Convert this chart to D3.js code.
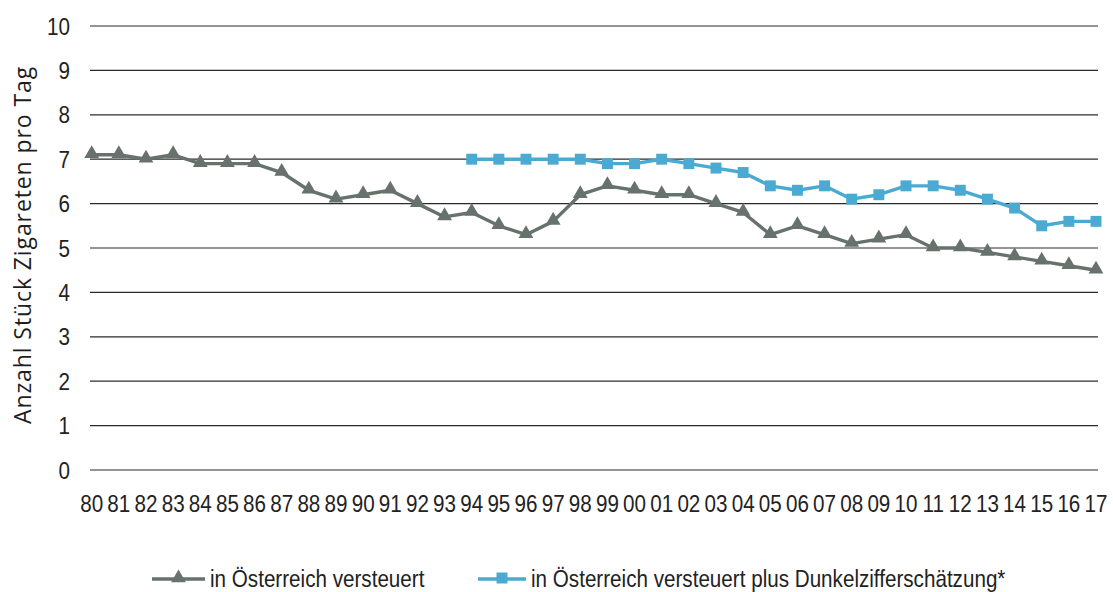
<!DOCTYPE html>
<html><head><meta charset="utf-8">
<script src="https://cdn.jsdelivr.net/npm/d3@7"></script>
<style>
html,body{margin:0;padding:0;background:#fff;}
svg{display:block;}
.tick-label{font-family:"Liberation Sans",Arial,sans-serif;fill:#222;}
</style></head>
<body>
<svg id="chart" width="1113" height="592"></svg>
<script>
const years = ["80","81","82","83","84","85","86","87","88","89","90","91","92","93","94","95","96","97","98","99","00","01","02","03","04","05","06","07","08","09","10","11","12","13","14","15","16","17"];
const taxed = [7.1,7.1,7.0,7.1,6.9,6.9,6.9,6.7,6.3,6.1,6.2,6.3,6.0,5.7,5.8,5.5,5.3,5.6,6.2,6.4,6.3,6.2,6.2,6.0,5.8,5.3,5.5,5.3,5.1,5.2,5.3,5.0,5.0,4.9,4.8,4.7,4.6,4.5];
const estYears = ["94","95","96","97","98","99","00","01","02","03","04","05","06","07","08","09","10","11","12","13","14","15","16","17"];
const estimated = [7.0,7.0,7.0,7.0,7.0,6.9,6.9,7.0,6.9,6.8,6.7,6.4,6.3,6.4,6.1,6.2,6.4,6.4,6.3,6.1,5.9,5.5,5.6,5.6];
const yTicks = [0,1,2,3,4,5,6,7,8,9,10];
const seriesNames = ["in Österreich versteuert","in Österreich versteuert plus Dunkelzifferschätzung*"];

const grey = "#66726b", blue = "#4aaad2";
const sx = 0.86;
const svg = d3.select("#chart");
const x = d3.scalePoint().domain(years).range([91.7, 1096]);
const y = d3.scaleLinear().domain([0,10]).range([470, 26]);

// gridlines
svg.append("g").selectAll("line").data(yTicks).join("line")
  .attr("x1", 90).attr("x2", 1098)
  .attr("y1", d => y(d)).attr("y2", d => y(d))
  .attr("stroke", "#2a2a2a").attr("stroke-width", 1.2);

// y tick labels
svg.append("g").selectAll("text").data(yTicks).join("text")
  .attr("class","tick-label")
  .attr("transform", d => `translate(70,${y(d) + 8.5}) scale(${sx},1)`)
  .attr("text-anchor","end").attr("font-size", 24)
  .text(d => d);

// x tick labels
svg.append("g").selectAll("text").data(years).join("text")
  .attr("class","tick-label")
  .attr("transform", d => `translate(${x(d)},512) scale(${sx},1)`)
  .attr("text-anchor","middle").attr("font-size", 24)
  .text(d => d);

// y title
svg.append("text")
  .attr("transform","translate(31,245) rotate(-90)")
  .attr("text-anchor","middle")
  .attr("font-family","'Open Sans',sans-serif")
  .attr("font-size", 23)
  .attr("font-weight", 500)
  .attr("letter-spacing", 0.9)
  .attr("fill","#1e1e1e")
  .text("Anzahl Stück Zigareten pro Tag");

const line = d3.line();
const tri = d3.symbol().type(d3.symbolTriangle).size(95);
const sq = d3.symbol().type(d3.symbolSquare).size(120);

// grey series
const gPts = years.map((yr,i) => [x(yr), y(taxed[i])]);
svg.append("path").attr("d", line(gPts)).attr("fill","none")
  .attr("stroke", grey).attr("stroke-width", 3.4).attr("stroke-linejoin","round");
svg.append("g").selectAll("path").data(gPts).join("path")
  .attr("transform", d => `translate(${d[0]},${d[1]-1})`)
  .attr("d", tri).attr("fill", grey);

// blue series
const bPts = estYears.map((yr,i) => [x(yr), y(estimated[i])]);
svg.append("path").attr("d", line(bPts)).attr("fill","none")
  .attr("stroke", blue).attr("stroke-width", 3.4).attr("stroke-linejoin","round");
svg.append("g").selectAll("path").data(bPts).join("path")
  .attr("transform", d => `translate(${d[0]},${d[1]})`)
  .attr("d", sq).attr("fill", blue);

// legend
const leg = svg.append("g").attr("class","legend");
const legItems = [
  {name: seriesNames[0], color: grey, sym: tri, x0: 152, w: 53},
  {name: seriesNames[1], color: blue, sym: sq, x0: 478, w: 48}
];
legItems.forEach(it => {
  leg.append("line").attr("x1", it.x0).attr("x2", it.x0 + it.w)
    .attr("y1", 579).attr("y2", 579).attr("stroke", it.color).attr("stroke-width", 3.5);
  leg.append("path").attr("transform", `translate(${it.x0+it.w/2},578)`).attr("d", it.sym).attr("fill", it.color);
  leg.append("text").attr("class","tick-label")
    .attr("transform", `translate(${it.x0 + it.w + 5},587) scale(${sx},1)`)
    .attr("font-size", 24).text(it.name);
});
</script>
</body></html>
